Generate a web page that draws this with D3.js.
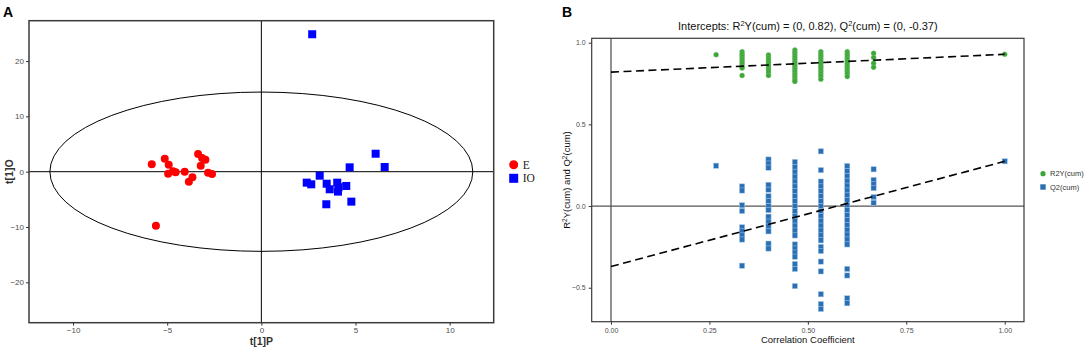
<!DOCTYPE html>
<html>
<head>
<meta charset="utf-8">
<script src="https://d3js.org/d3.v7.min.js"></script>
<style>
  html, body { margin: 0; padding: 0; background: #fff; }
  .tick text { font-family: "Liberation Sans", Arial, sans-serif; fill: #4d4d4d; }
</style>
</head>
<body>
<div id="chart"></div>
<script>
// ---- Panel A: OPLS-DA scores ----
const scoresE = [[-5.82, 1.34], [-5.13, 2.35], [-4.92, 1.26], [-4.95, -0.36], [-4.69, 0.07],
  [-4.55, -0.1], [-4.07, 0.0], [-3.85, -1.8], [-3.66, -1.0], [-3.36, 3.19], [-3.15, 2.47],
  [-2.97, 2.17], [-3.22, 1.08], [-2.83, -0.18], [-2.62, -0.42], [-5.6, -9.75]];
const scoresIO = [[2.7, 24.85], [6.07, 3.25], [4.69, 0.79], [6.55, 0.85], [3.1, -0.72],
  [2.41, -1.98], [2.65, -2.28], [3.47, -2.17], [4.03, -1.98], [3.63, -3.18], [4.07, -3.6],
  [4.51, -2.58], [3.45, -5.89], [4.78, -5.41], [4.1, -2.8]];
const ellipseRadii = [11.23, 14.4];
const ticksAx = [-10, -5, 0, 5, 10];
const ticksAy = [-20, -10, 0, 10, 20];
const groupsA = ["E", "IO"];

// ---- Panel B: permutation test ----
const corrLevels = [0.267, 0.333, 0.4, 0.467, 0.533, 0.6, 0.667, 1.0];
const r2Values = [
  [0.927],
  [0.945, 0.93, 0.915, 0.9, 0.885, 0.87, 0.855, 0.845, 0.80],
  [0.925, 0.91, 0.895, 0.88, 0.865, 0.85, 0.835, 0.82, 0.80],
  [0.955, 0.94, 0.925, 0.91, 0.895, 0.88, 0.865, 0.85, 0.835, 0.82, 0.805, 0.79, 0.775, 0.763],
  [0.945, 0.93, 0.915, 0.9, 0.885, 0.87, 0.855, 0.84, 0.825, 0.81, 0.795, 0.777],
  [0.945, 0.93, 0.915, 0.9, 0.885, 0.87, 0.855, 0.84, 0.825, 0.81, 0.793],
  [0.935, 0.91, 0.875, 0.85],
  [0.929]
];
const q2Values = [
  [0.247],
  [0.12, 0.095, 0.005, -0.03, -0.13, -0.155, -0.18, -0.205, -0.365],
  [0.285, 0.26, 0.235, 0.13, 0.10, 0.06, 0.03, 0.0, -0.025, -0.065, -0.095, -0.125, -0.155, -0.23, -0.26],
  [0.27, 0.24, 0.21, 0.18, 0.15, 0.12, 0.09, 0.06, 0.03, 0.0, -0.03, -0.06, -0.09, -0.12, -0.15, -0.18,
   -0.235, -0.26, -0.285, -0.31, -0.355, -0.385, -0.49],
  [0.335, 0.22, 0.15, 0.12, 0.09, 0.06, 0.03, 0.0, -0.03, -0.06, -0.09, -0.12, -0.15, -0.18, -0.21,
   -0.25, -0.275, -0.34, -0.40, -0.54, -0.60, -0.63],
  [0.245, 0.215, 0.185, 0.155, 0.125, 0.095, 0.065, 0.035, 0.005, -0.025, -0.055, -0.085, -0.115,
   -0.145, -0.175, -0.205, -0.235, -0.385, -0.425, -0.565, -0.595],
  [0.225, 0.16, 0.135, 0.11, 0.055, 0.02],
  [0.274]
];
const interceptR2 = [[0, 0.82], [1, 0.929]];
const interceptQ2 = [[0, -0.37], [1, 0.274]];
const ticksBx = [0, 0.25, 0.5, 0.75, 1.0];
const ticksBy = [-0.5, 0, 0.5, 1.0];
const seriesB = ["R2Y(cum)", "Q2(cum)"];

const font = '"Liberation Sans", Arial, sans-serif';

const svg = d3.select("#chart").append("svg")
  .attr("width", 1084).attr("height", 348);

// ================= Panel A =================
const xA = d3.scaleLinear().domain([-12.34, 12.34]).range([29, 493.7]);
const yA = d3.scaleLinear().domain([-27.3, 27.3]).range([322.7, 20.7]);

const gA = svg.append("g");

gA.append("g")
  .attr("transform", `translate(0,${yA.range()[0]})`)
  .call(d3.axisBottom(xA).tickValues(ticksAx).tickSize(3).tickPadding(1.5))
  .call(g => g.select(".domain").remove())
  .call(g => g.selectAll("text").style("font-size", "8px"))
  .call(g => g.selectAll("line").attr("stroke", "#333"));

gA.append("g")
  .attr("transform", `translate(${xA.range()[0]},0)`)
  .call(d3.axisLeft(yA).tickValues(ticksAy).tickSize(3).tickPadding(2))
  .call(g => g.select(".domain").remove())
  .call(g => g.selectAll("text").style("font-size", "8px"))
  .call(g => g.selectAll("line").attr("stroke", "#333"));

// zero lines
gA.append("line")
  .attr("x1", xA(0)).attr("x2", xA(0))
  .attr("y1", yA.range()[1]).attr("y2", yA.range()[0])
  .attr("stroke", "#000").attr("stroke-width", 1);
gA.append("line")
  .attr("x1", xA.range()[0]).attr("x2", xA.range()[1])
  .attr("y1", yA(0)).attr("y2", yA(0))
  .attr("stroke", "#000").attr("stroke-width", 1);

// Hotelling ellipse
gA.append("ellipse")
  .attr("cx", xA(0)).attr("cy", yA(0))
  .attr("rx", xA(ellipseRadii[0]) - xA(0))
  .attr("ry", yA(0) - yA(ellipseRadii[1]))
  .attr("fill", "none").attr("stroke", "#000").attr("stroke-width", 1);

gA.selectAll("circle.e").data(scoresE).enter().append("circle")
  .attr("class", "e")
  .attr("cx", d => xA(d[0])).attr("cy", d => yA(d[1]))
  .attr("r", 4).attr("fill", "#ff0000");

gA.selectAll("rect.io").data(scoresIO).enter().append("rect")
  .attr("class", "io")
  .attr("x", d => xA(d[0]) - 4).attr("y", d => yA(d[1]) - 4)
  .attr("width", 8).attr("height", 8).attr("fill", "#0000ff");

// frame
gA.append("rect")
  .attr("x", xA.range()[0]).attr("y", yA.range()[1])
  .attr("width", xA.range()[1] - xA.range()[0])
  .attr("height", yA.range()[0] - yA.range()[1])
  .attr("fill", "none").attr("stroke", "#3a3a3a").attr("stroke-width", 1.5);

gA.append("text").attr("x", xA(0)).attr("y", 345)
  .attr("text-anchor", "middle").style("font-family", font)
  .style("font-size", "10.5px").style("font-weight", "bold").attr("fill", "#333")
  .text("t[1]P");
gA.append("text")
  .attr("transform", `translate(13,${yA(0)}) rotate(-90)`)
  .attr("text-anchor", "middle").style("font-family", font)
  .style("font-size", "10.5px").style("font-weight", "bold").attr("fill", "#333")
  .text("t[1]O");

// legend A
const legA = gA.append("g").attr("transform", "translate(513.7,164.7)");
groupsA.forEach((name, i) => {
  const row = legA.append("g").attr("transform", `translate(0,${i * 13.6})`);
  if (i === 0) row.append("circle").attr("r", 4.5).attr("fill", "#ff0000");
  else row.append("rect").attr("x", -4.5).attr("y", -4.5).attr("width", 9).attr("height", 9).attr("fill", "#0000ff");
  row.append("text").attr("x", 9).attr("y", 4)
    .style("font-family", '"Liberation Serif", "Times New Roman", serif')
    .style("font-size", "11.5px").attr("fill", "#222").text(name);
});

svg.append("text").attr("x", 3).attr("y", 17)
  .style("font-family", font).style("font-size", "14px").style("font-weight", "bold")
  .text("A");

// ================= Panel B =================
const xB = d3.scaleLinear().domain([-0.049, 1.049]).range([591.7, 1024]);
const yB = d3.scaleLinear().domain([-0.708, 1.027]).range([321.7, 38.3]);

const gB = svg.append("g");

gB.append("g")
  .attr("transform", `translate(0,${yB.range()[0]})`)
  .call(d3.axisBottom(xB).tickValues(ticksBx).tickFormat(d3.format(".2f")).tickSize(3).tickPadding(3))
  .call(g => g.select(".domain").remove())
  .call(g => g.selectAll("text").style("font-size", "7px"))
  .call(g => g.selectAll("line").attr("stroke", "#333"));

gB.append("g")
  .attr("transform", `translate(${xB.range()[0]},0)`)
  .call(d3.axisLeft(yB).tickValues(ticksBy).tickFormat(d3.format(".1f")).tickSize(3).tickPadding(3))
  .call(g => g.select(".domain").remove())
  .call(g => g.selectAll("text").style("font-size", "7px"))
  .call(g => g.selectAll("line").attr("stroke", "#333"));

gB.append("line")
  .attr("x1", xB(0)).attr("x2", xB(0))
  .attr("y1", yB.range()[1]).attr("y2", yB.range()[0])
  .attr("stroke", "#555").attr("stroke-width", 1.3);
gB.append("line")
  .attr("x1", xB.range()[0]).attr("x2", xB.range()[1])
  .attr("y1", yB(0)).attr("y2", yB(0))
  .attr("stroke", "#555").attr("stroke-width", 1.3);

// points
const r2Points = [], q2Points = [];
corrLevels.forEach((c, i) => {
  r2Values[i].forEach(v => r2Points.push([c, v]));
  q2Values[i].forEach(v => q2Points.push([c, v]));
});

gB.selectAll("rect.q2").data(q2Points).enter().append("rect")
  .attr("class", "q2")
  .attr("x", d => xB(d[0]) - 2.6).attr("y", d => yB(d[1]) - 2.6)
  .attr("width", 5.2).attr("height", 5.2)
  .attr("fill", "#2a6fb4").attr("stroke", "#a8c8e8").attr("stroke-width", 0.5);

gB.selectAll("circle.r2").data(r2Points).enter().append("circle")
  .attr("class", "r2")
  .attr("cx", d => xB(d[0])).attr("cy", d => yB(d[1]))
  .attr("r", 2.5).attr("fill", "#3ca636").attr("stroke", "#7cc576").attr("stroke-width", 0.4);

const line = d3.line().x(d => xB(d[0])).y(d => yB(d[1]));
[interceptR2, interceptQ2].forEach(seg => {
  gB.append("path").datum(seg).attr("d", line)
    .attr("fill", "none").attr("stroke", "#000").attr("stroke-width", 1.6)
    .attr("stroke-dasharray", "8,4.5");
});

gB.append("rect")
  .attr("x", xB.range()[0]).attr("y", yB.range()[1])
  .attr("width", xB.range()[1] - xB.range()[0])
  .attr("height", yB.range()[0] - yB.range()[1])
  .attr("fill", "none").attr("stroke", "#3a3a3a").attr("stroke-width", 1.2);

// title
const title = gB.append("text").attr("x", (xB.range()[0] + xB.range()[1]) / 2).attr("y", 30)
  .attr("text-anchor", "middle").style("font-family", font).style("font-size", "11px").attr("fill", "#111");
title.append("tspan").text("Intercepts: R");
title.append("tspan").attr("dy", -4).style("font-size", "7.5px").text("2");
title.append("tspan").attr("dy", 4).text("Y(cum) = (0, 0.82), Q");
title.append("tspan").attr("dy", -4).style("font-size", "7.5px").text("2");
title.append("tspan").attr("dy", 4).text("(cum) = (0, -0.37)");

gB.append("text").attr("x", (xB.range()[0] + xB.range()[1]) / 2).attr("y", 343)
  .attr("text-anchor", "middle").style("font-family", font).style("font-size", "9.5px").attr("fill", "#111")
  .text("Correlation Coefficient");

const ylab = gB.append("text")
  .attr("transform", `translate(570,${(yB.range()[0] + yB.range()[1]) / 2}) rotate(-90)`)
  .attr("text-anchor", "middle").style("font-family", font).style("font-size", "9.5px").attr("fill", "#111");
ylab.append("tspan").text("R");
ylab.append("tspan").attr("dy", -3.5).style("font-size", "6.5px").text("2");
ylab.append("tspan").attr("dy", 3.5).text("Y(cum) and Q");
ylab.append("tspan").attr("dy", -3.5).style("font-size", "6.5px").text("2");
ylab.append("tspan").attr("dy", 3.5).text("(cum)");

// legend B
const legB = gB.append("g").attr("transform", "translate(1043,173.7)");
seriesB.forEach((name, i) => {
  const row = legB.append("g").attr("transform", `translate(0,${i * 13.3})`);
  if (i === 0) row.append("circle").attr("r", 2.6).attr("fill", "#3ca636");
  else row.append("rect").attr("x", -2.7).attr("y", -2.7).attr("width", 5.4).attr("height", 5.4).attr("fill", "#2a6fb4");
  row.append("text").attr("x", 7).attr("y", 2.6)
    .style("font-family", font).style("font-size", "7.5px").attr("fill", "#333").text(name);
});

svg.append("text").attr("x", 562).attr("y", 17)
  .style("font-family", font).style("font-size", "14px").style("font-weight", "bold")
  .text("B");
</script>
</body>
</html>
